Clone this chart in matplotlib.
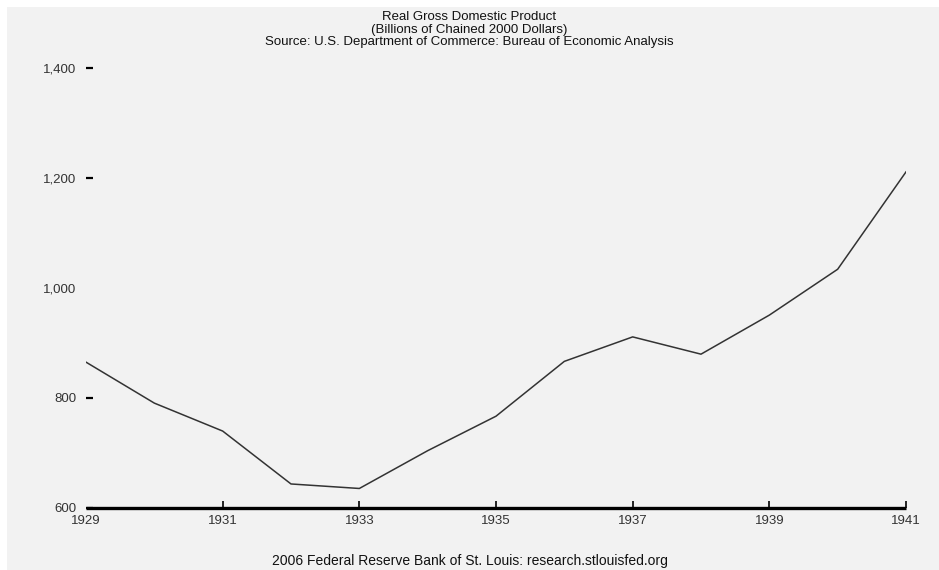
import matplotlib
matplotlib.use("Agg")
import matplotlib.pyplot as plt
from matplotlib.patches import Rectangle
from matplotlib.ticker import FuncFormatter

plt.rcParams['font.family'] = ['Liberation Sans', 'DejaVu Sans']

# annual real GDP, billions of chained 2000 dollars
years = [1929, 1930, 1931, 1932, 1933, 1934, 1935, 1936, 1937, 1938, 1939, 1940, 1941]
gdp = [865.2, 790.7, 739.9, 643.7, 635.5, 704.2, 766.9, 866.6, 911.1, 879.7, 950.7, 1034.1, 1211.1]

x_ticks = [1929, 1931, 1933, 1935, 1937, 1939, 1941]
y_ticks = [600, 800, 1000, 1200, 1400]

title_lines = ["Real Gross Domestic Product",
               "(Billions of Chained 2000 Dollars)",
               "Source: U.S. Department of Commerce: Bureau of Economic Analysis"]
footer = "2006 Federal Reserve Bank of St. Louis: research.stlouisfed.org"

W, H = 939, 570
fig = plt.figure(figsize=(W / 100, H / 100), dpi=100)
fig.patch.set_facecolor('white')
# light gray panel, white strip on left and top
fig.patches.append(Rectangle((7 / W, 0), 1 - 7 / W, 1 - 7 / H, transform=fig.transFigure,
                             facecolor='#f2f2f2', edgecolor='none', zorder=-5))

ax = fig.add_axes([86 / W, 62 / H, 820 / W, 440 / H])
ax.set_facecolor('none')
ax.plot(years, gdp, color='#333333', lw=1.1, solid_joinstyle='round')

ax.set_xlim(1929, 1941)
ax.set_ylim(600, 1400)
ax.set_xticks(x_ticks)
ax.set_yticks(y_ticks)
ax.yaxis.set_major_formatter(FuncFormatter(lambda v, p: f"{int(v):,}"))

for s in ['top', 'right', 'left']:
    ax.spines[s].set_visible(False)
ax.spines['bottom'].set_linewidth(2.4)
ax.spines['bottom'].set_color('black')
ax.spines['bottom'].set_capstyle('butt')

ax.tick_params(axis='x', direction='in', length=5, width=1.2, color='black',
               labelsize=9.5, pad=5, labelcolor='#333333')
ax.tick_params(axis='y', direction='in', length=5, width=1.6, color='black',
               labelsize=9.5, pad=7, labelcolor='#333333')
ax.xaxis.get_major_ticks()[0].tick1line.set_visible(False)
ax.yaxis.get_major_ticks()[2].tick1line.set_visible(False)

# three title lines as one text block, ~12 px apart
fig.text(0.5, 1 - 29.5 / H, "\n".join(title_lines), ha='center', va='center',
         fontsize=9.5, linespacing=1.08, color='#111111')
fig.text(0.5, 1 - 561 / H, footer, ha='center', va='center', fontsize=10, color='#111111')

fig.savefig('out.png', dpi=100, facecolor=fig.get_facecolor())
